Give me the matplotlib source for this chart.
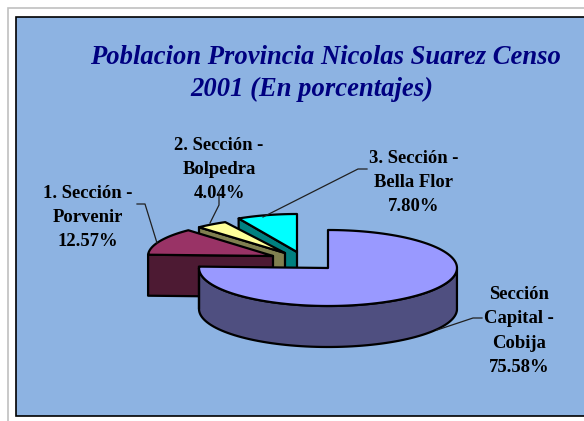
import numpy as np
import matplotlib
matplotlib.use("Agg")
import matplotlib.pyplot as plt
from matplotlib.patches import Polygon, Rectangle

plt.rcParams['font.family'] = ['Liberation Serif', 'DejaVu Serif']

labels = ["Sección\nCapital -\nCobija\n75.58%", "1. Sección -\nPorvenir\n12.57%",
          "2. Sección -\nBolpedra\n4.04%", "3. Sección -\nBella Flor\n7.80%"]
values = [75.58, 12.57, 4.04, 7.80]
title_lines = ["Poblacion Provincia Nicolas Suarez Censo", "2001 (En porcentajes)"]

W, H = 584, 421
DEPTH = 41
radii = [(129, 38), (125, 35), (127, 35), (124, 38)]
apex = [(328, 268), (273, 256), (285, 253), (297, 252)]
top_c = ['#9999FF', '#993366', '#FFFF99', '#00FFFF']
side_c = ['#4F4F80', '#4D1A33', '#808050', '#008080']
label_xy = [(519, 331), (88, 217.5), (219, 169.5), (414, 182.5)]
title_xy = [(325.5, 57.5), (311.5, 89.5)]
leaders = [[(482, 318), (473, 318), (437, 330)], [(137, 204), (145, 204), (157, 243)],
           [(219, 193), (219, 205), (210, 223)], [(367, 169), (358, 169), (263, 217)]]

fig = plt.figure(figsize=(W/100, H/100), dpi=100, facecolor='white')
ax = fig.add_axes([0, 0, 1, 1])
ax.set_xlim(0, W); ax.set_ylim(H, 0); ax.axis('off')

ax.plot([8, 8, W], [H, 8, 8], color='#C0C0C0', lw=1.2, zorder=1, solid_joinstyle='miter')
ax.add_patch(Rectangle((15.5, 16.5), W, 399, fc='#8DB3E2', ec='black', lw=1.2, zorder=1))

# angle span of every slice, clockwise from 12 o'clock, in the drawing's order
frac = np.array(values) / sum(values) * 360
ends = 90 - np.cumsum(frac)
starts = ends + frac

def draw(i, z):
    c = apex[i]
    th = np.radians(np.linspace(starts[i], ends[i], 120))
    x = c[0] + radii[i][0]*np.cos(th)
    y = c[1] - radii[i][1]*np.sin(th)
    kw = dict(ec='black', lw=1.6, zorder=z, joinstyle='round')
    if i == 0:
        # outer rim, only the part facing the viewer
        m = (np.sin(th) <= 0)
        rx, ry = x[m], y[m]
        ax.add_patch(Polygon(np.r_[np.c_[rx, ry], np.c_[rx[::-1], ry[::-1] + DEPTH]],
                             fc=side_c[i], **kw))
        ax.plot([x[-1], x[-1]], [y[-1], y[-1] + DEPTH], color='black', lw=1.6, zorder=z)
    else:
        # cut face that looks at the viewer, under the clockwise-leading edge
        ex, ey = x[0], y[0]
        ax.add_patch(Polygon([(ex, ey), c, (c[0], c[1] + DEPTH), (ex, ey + DEPTH)],
                             fc=side_c[i], **kw))
    ax.add_patch(Polygon(np.r_[[c], np.c_[x, y]], fc=top_c[i], **kw))

draw(3, 3); draw(2, 4); draw(1, 5); draw(0, 6)

for pts in leaders:
    p = np.array(pts)
    ax.plot(p[:, 0], p[:, 1], color='#202020', lw=0.9, zorder=9)

for s, (x, y) in zip(labels, label_xy):
    ax.text(x, y, s, ha='center', va='center', fontsize=13.4, fontweight='bold',
            color='black', linespacing=1.56, zorder=8)

for s, (x, y) in zip(title_lines, title_xy):
    ax.text(x, y, s, ha='center', va='center', fontsize=19.2, fontweight='bold',
            fontstyle='italic', color='#000080', zorder=8)

fig.savefig('out.png', dpi=100, facecolor='white')
